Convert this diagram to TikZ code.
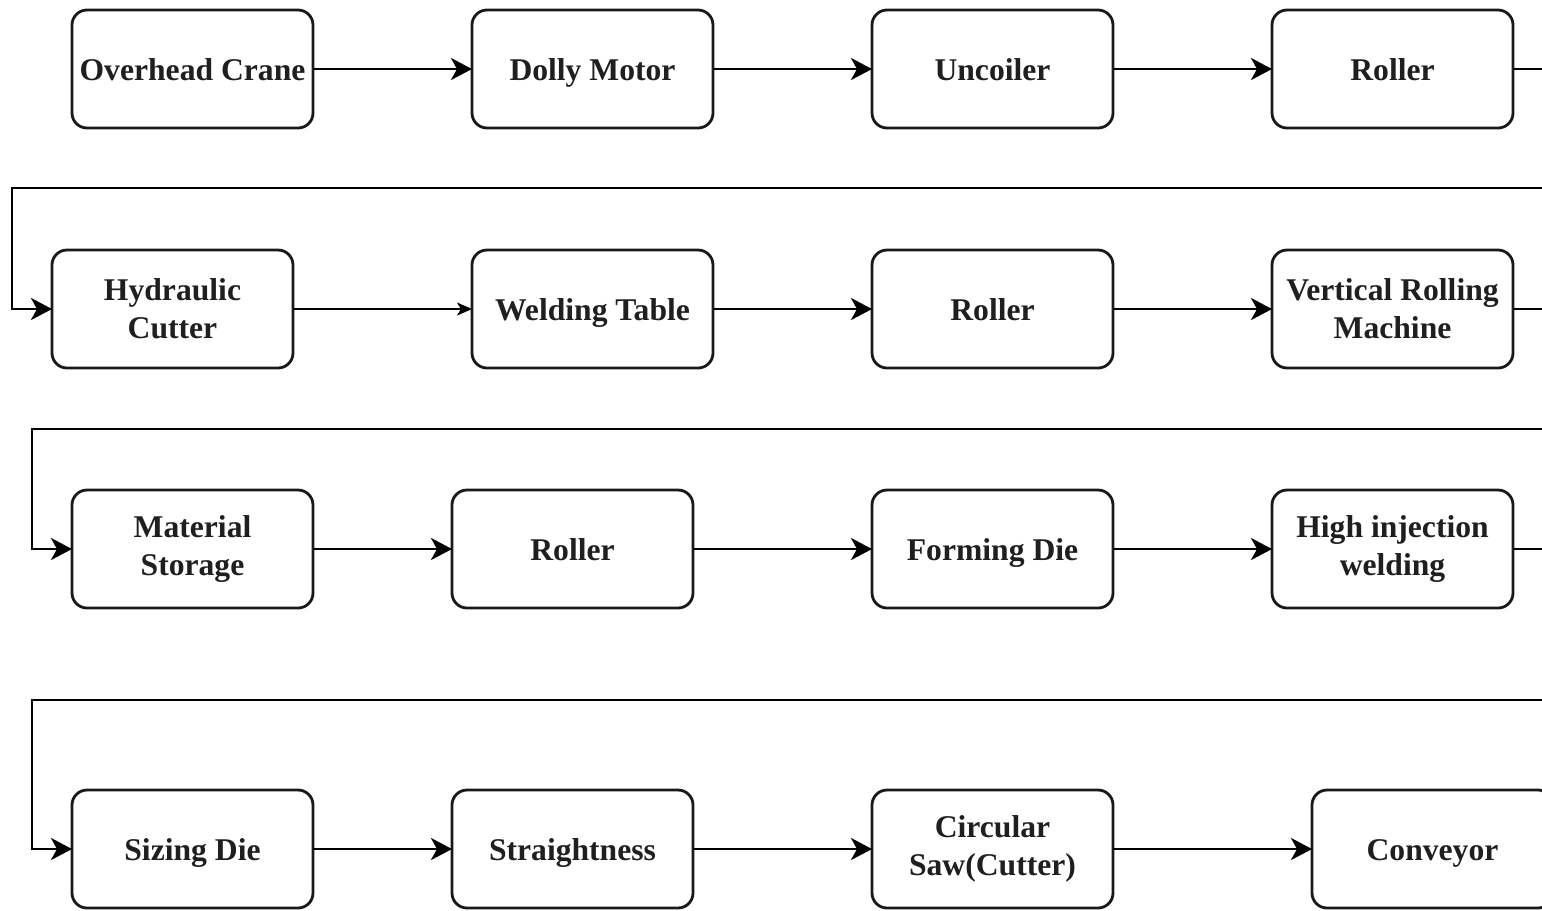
\documentclass[tikz,border=0pt]{standalone}
\usepackage{fontspec}
\setmainfont{Liberation Serif}
\usetikzlibrary{arrows.meta,positioning}

\begin{document}
\begin{tikzpicture}[
    box/.style={rectangle,rounded corners=0.3cm,draw=black!90,line width=1.6pt,fill=white,outer sep=0pt,
      minimum width=4.82cm,minimum height=2.36cm,align=center,text=black!88,
      font=\fontsize{18}{21.6}\selectfont\bfseries},
    one line/.style={box,text height=17pt,text depth=4pt},
    link/.style={line width=1.6pt,-{Stealth[length=0.42cm,width=0.44cm,inset=0.12cm]}},
    thin link/.style={line width=0.8pt,-{Stealth[length=0.3cm,width=0.26cm,inset=0.08cm]}}]
      \useasboundingbox (0,0) rectangle (30.84,-18.2);
      \clip (0,0) rectangle (30.84,-18.2);

      \node[one line] (crane) at (3.85,-1.38) {Overhead Crane};
      \node[one line,right=3.18cm of crane] (dolly) {Dolly Motor};
      \node[one line,right=3.18cm of dolly] (uncoiler) {Uncoiler};
      \node[one line,right=3.18cm of uncoiler] (rollerA) {Roller};

      \node[box,below=2.44cm of crane,xshift=-0.4cm] (cutter) {Hydraulic\\Cutter};
      \node[one line,right=3.58cm of cutter] (welding) {Welding Table};
      \node[one line,right=3.18cm of welding] (rollerB) {Roller};
      \node[box,right=3.18cm of rollerB] (vertical) {Vertical Rolling\\Machine};

      \node[box,below=2.44cm of cutter,xshift=0.4cm] (storage) {Material\\Storage};
      \node[one line,right=2.78cm of storage] (rollerC) {Roller};
      \node[one line,right=3.58cm of rollerC] (forming) {Forming Die};
      \node[box,right=3.18cm of forming] (injection) {High injection\\welding};

      \node[one line,below=3.64cm of storage] (sizing) {Sizing Die};
      \node[one line,right=2.78cm of sizing] (straight) {Straightness};
      \node[box,right=3.58cm of straight] (saw) {Circular\\Saw(Cutter)};
      \node[one line,right=3.98cm of saw] (conveyor) {Conveyor};

      \coordinate (turnA) at (31.6,-3.76);
      \coordinate (turnB) at (31.6,-8.58);
      \coordinate (turnC) at (31.6,-14.0);

      \draw[link] (crane) -- (dolly);
      \draw[link] (dolly) -- (uncoiler);
      \draw[link] (uncoiler) -- (rollerA);
      \draw[link] (rollerA.east) -| (turnA) -| ([xshift=-0.8cm]cutter.west) -- (cutter.west);

      \draw[thin link] (cutter) -- (welding);
      \draw[link] (welding) -- (rollerB);
      \draw[link] (rollerB) -- (vertical);
      \draw[link] (vertical.east) -| (turnB) -| ([xshift=-0.8cm]storage.west) -- (storage.west);

      \draw[link] (storage) -- (rollerC);
      \draw[link] (rollerC) -- (forming);
      \draw[link] (forming) -- (injection);
      \draw[link] (injection.east) -| (turnC) -| ([xshift=-0.8cm]sizing.west) -- (sizing.west);

      \draw[link] (sizing) -- (straight);
      \draw[link] (straight) -- (saw);
      \draw[link] (saw) -- (conveyor);
    \end{tikzpicture}
\end{document}
